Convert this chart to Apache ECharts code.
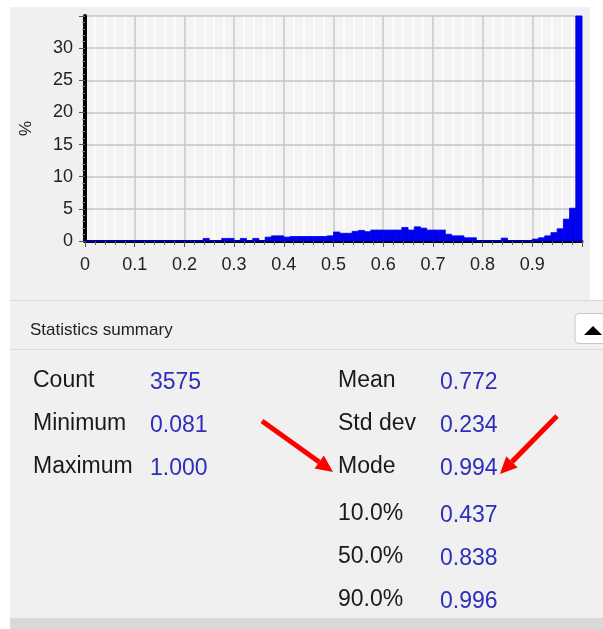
<!DOCTYPE html>
<html>
<head>
<meta charset="utf-8">
<script src="https://cdn.jsdelivr.net/npm/echarts@6/dist/echarts.min.js"></script>
<style>
  html, body { margin: 0; padding: 0; background: #fff; }
  #chart { width: 603px; height: 629px; }
</style>
</head>
<body>
<div id="chart"></div>
<script>
// histogram bins: 80 bins of width 0.0125 from 0 to 1, values in %
const binWidth = 0.0125;
const binPercent = [
  0, 0, 0, 0, 0, 0, 0, 0, 0, 0,
  0, 0, 0, 0, 0, 0, 0, 0, 0, 0.4,
  0, 0, 0.4, 0.4, 0, 0.4, 0, 0.4, 0, 0.6,
  0.8, 0.8, 0.6, 0.7, 0.7, 0.7, 0.7, 0.7, 0.7, 0.8,
  1.4, 1.2, 1.2, 1.5, 1.65, 1.45, 1.7, 1.7, 1.7, 1.7,
  1.7, 2.1, 1.7, 2.2, 2.0, 1.7, 1.7, 1.7, 1.05, 0.8,
  0.8, 0.5, 0.5, 0, 0, 0, 0, 0.45, 0, 0,
  0, 0, 0.3, 0.5, 0.8, 1.3, 1.9, 3.4, 5.1, 42
];

const statLabelsLeft = ['Count', 'Minimum', 'Maximum'];
const statValuesLeft = ['3575', '0.081', '1.000'];
const statLabelsRight = ['Mean', 'Std dev', 'Mode', '10.0%', '50.0%', '90.0%'];
const statValuesRight = ['0.772', '0.234', '0.994', '0.437', '0.838', '0.996'];

const FONT = '"Liberation Sans", Arial, sans-serif';
const chart = echarts.init(document.getElementById('chart'));

const histData = binPercent.map((v, i) => [i * binWidth, (i + 1) * binWidth, v]);

// text rows of the statistics panel
const rowY = [381, 424, 467, 514, 557, 600];
const statTexts = [];
statLabelsLeft.forEach((t, i) => {
  statTexts.push({ type: 'text', x: 33, y: rowY[i], style: { text: t, font: '23px ' + FONT, fill: '#1a1a1a', verticalAlign: 'middle' } });
  statTexts.push({ type: 'text', x: 150, y: rowY[i] + 2, style: { text: statValuesLeft[i], font: '23px ' + FONT, fill: '#2e2eb8', verticalAlign: 'middle' } });
});
statLabelsRight.forEach((t, i) => {
  statTexts.push({ type: 'text', x: 338, y: rowY[i], style: { text: t, font: '23px ' + FONT, fill: '#1a1a1a', verticalAlign: 'middle' } });
  statTexts.push({ type: 'text', x: 440, y: rowY[i] + 2, style: { text: statValuesRight[i], font: '23px ' + FONT, fill: '#2e2eb8', verticalAlign: 'middle' } });
});

function arrow(x0, y0, x1, y1) {
  const dx = x1 - x0, dy = y1 - y0;
  const len = Math.sqrt(dx * dx + dy * dy);
  const ux = dx / len, uy = dy / len;
  const bx = x1 - ux * 17, by = y1 - uy * 17;
  const px = -uy * 8, py = ux * 8;
  return [
    { type: 'line', shape: { x1: x0, y1: y0, x2: bx, y2: by }, style: { stroke: '#ff0000', lineWidth: 5 } },
    { type: 'polygon', shape: { points: [[x1, y1], [bx + px, by + py], [bx - px, by - py]] }, style: { fill: '#ff0000' } }
  ];
}

const option = {
  backgroundColor: '#ffffff',
  animation: false,
  grid: {
    left: 85, right: 21, top: 16, bottom: 388, z: -3,
    show: true, backgroundColor: '#f4f4f4', borderWidth: 0,
    outerBoundsMode: 'none'
  },
  xAxis: [{
    type: 'value', min: 0, max: 1, interval: 0.1,
    axisLine: { show: true, onZero: false, lineStyle: { color: '#000', width: 3 } },
    axisTick: { show: true, length: 6, lineStyle: { color: '#555' } },
    minorTick: { show: true, splitNumber: 5, length: 4, lineStyle: { color: '#666' } },
    splitLine: { show: true, lineStyle: { color: '#c6c6c6', width: 1.5, type: 'solid' } },
    axisLabel: { showMaxLabel: false, margin: 15, color: '#222', fontSize: 18, fontFamily: FONT }
  }, {
    // top border of the plot plus the faint vertical stripes behind the grid lines
    type: 'value', min: 0, max: 1, interval: 0.02, position: 'top', z: -2,
    axisLine: { show: true, lineStyle: { color: '#444', width: 1.5 } },
    axisTick: { show: false }, axisLabel: { show: false },
    splitLine: { show: true, lineStyle: { color: '#fcfcfc', width: 2, type: 'solid' } }
  }],
  yAxis: {
    type: 'value', min: 0, max: 35, interval: 5,
    name: '%', nameLocation: 'middle', nameGap: 50, nameRotate: 90,
    nameTextStyle: { color: '#222', fontSize: 17, fontFamily: FONT },
    axisLine: { show: true, lineStyle: { color: '#000', width: 4 } },
    axisTick: { show: true, length: 6, lineStyle: { color: '#555' } },
    minorTick: { show: true, splitNumber: 5, length: 3, lineStyle: { color: '#888' } },
    splitLine: { show: true, lineStyle: { color: '#c6c6c6', width: 1.5, type: 'solid' } },
    axisLabel: { showMaxLabel: false, margin: 12, color: '#222', fontSize: 18, fontFamily: FONT }
  },
  series: [{
    type: 'custom',
    xAxisIndex: 0,
    data: histData,
    encode: { x: [0, 1], y: 2 },
    renderItem(params, api) {
      const p0 = api.coord([api.value(0), api.value(2)]);
      const p1 = api.coord([api.value(1), 0]);
      const rect = echarts.graphic.clipRectByRect(
        { x: p0[0], y: p0[1], width: p1[0] - p0[0], height: p1[1] - p0[1] },
        { x: params.coordSys.x, y: params.coordSys.y, width: params.coordSys.width, height: params.coordSys.height }
      );
      return rect && { type: 'rect', shape: rect, style: { fill: '#0000ee', stroke: '#0000ee', lineWidth: 0.8 } };
    }
  }],
  graphic: [
    { type: 'rect', z: -10, silent: true, shape: { x: 10, y: 7, width: 580, height: 294 }, style: { fill: '#f0f0f0' } },
    { type: 'rect', z: -10, silent: true, shape: { x: 10, y: 300, width: 593, height: 320 }, style: { fill: '#f0f0f0' } },
    { type: 'rect', z: -10, silent: true, shape: { x: 10, y: 618, width: 593, height: 11 }, style: { fill: '#d9d9d9' } },
    { type: 'line', shape: { x1: 10, y1: 300.5, x2: 603, y2: 300.5 }, style: { stroke: '#d8d8d8', lineWidth: 1 } },
    { type: 'line', shape: { x1: 10, y1: 349.5, x2: 603, y2: 349.5 }, style: { stroke: '#dadada', lineWidth: 1 } },
    { type: 'text', x: 30, y: 330, style: { text: 'Statistics summary', font: '17px ' + FONT, fill: '#222', verticalAlign: 'middle' } },
    { type: 'rect', shape: { x: 575, y: 313.5, width: 40, height: 30, r: 4 }, style: { fill: '#ffffff', stroke: '#c8c8c8', lineWidth: 1 } },
    { type: 'polygon', shape: { points: [[584, 335], [602, 335], [593, 326]] }, style: { fill: '#000' } },
    ...statTexts,
    ...arrow(262, 421, 333, 472),
    ...arrow(557, 416, 500, 474)
  ]
};

chart.setOption(option);
</script>
</body>
</html>
